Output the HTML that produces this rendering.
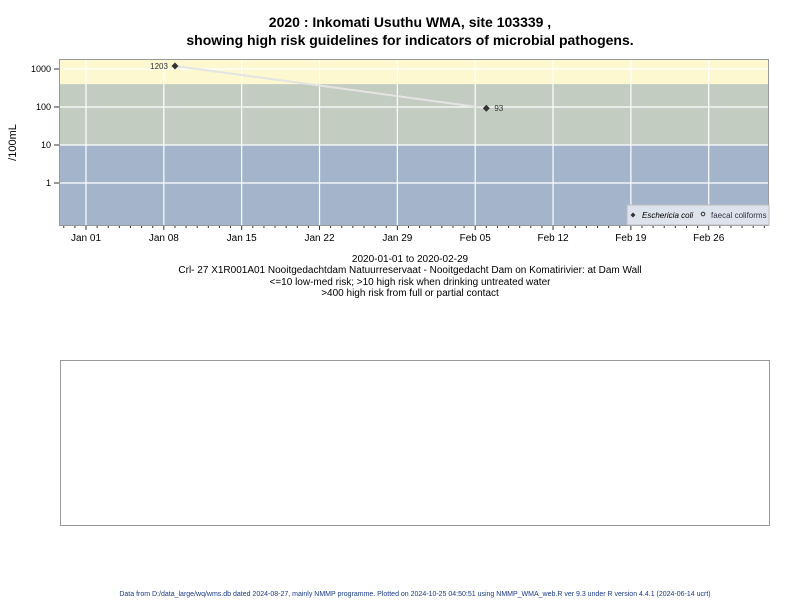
<!DOCTYPE html>
<html><head><meta charset="utf-8"><style>
body{margin:0;background:#fff;font-family:"Liberation Sans",sans-serif}
</style></head><body>
<svg width="800" height="600" xmlns="http://www.w3.org/2000/svg" font-family="Liberation Sans, sans-serif">
<text x="410" y="27" text-anchor="middle" font-size="14" font-weight="bold">2020 : Inkomati Usuthu WMA, site 103339 ,</text>
<text x="410" y="45" text-anchor="middle" font-size="14" font-weight="bold">showing high risk guidelines for indicators of microbial pathogens.</text>
<g id="plot"></g>
<text x="410" y="262" text-anchor="middle" font-size="10">2020-01-01 to 2020-02-29</text>
<text x="410" y="273" text-anchor="middle" font-size="10">Crl- 27 X1R001A01 Nooitgedachtdam Natuurreservaat - Nooitgedacht Dam on Komatirivier: at Dam Wall</text>
<text x="410" y="285" text-anchor="middle" font-size="10">&lt;=10 low-med risk; &gt;10 high risk when drinking untreated water</text>
<text x="410" y="296" text-anchor="middle" font-size="10">&gt;400 high risk from full or partial contact</text>
<rect x="60.5" y="360.5" width="709" height="165" fill="none" stroke="#999"/>
<text x="415" y="596" text-anchor="middle" font-size="7" fill="#1a3a8a">Data from D:/data_large/wq/wms.db dated 2024-08-27, mainly NMMP programme. Plotted on 2024-10-25 04:50:51 using NMMP_WMA_web.R ver 9.3 under R version 4.4.1 (2024-06-14 ucrt)</text>
</svg>
<script>
const dates=["2020-01-09","2020-02-06"];
const values=[1203,93];
const xTickLabels=["Jan 01","Jan 08","Jan 15","Jan 22","Jan 29","Feb 05","Feb 12","Feb 19","Feb 26"];
const yTicks=[1,10,100,1000];
const NS="http://www.w3.org/2000/svg";
const L=59,R=769,T=59,B=226;
const day0=Date.UTC(2020,0,1);
function dayOf(s){return (Date.parse(s+"T00:00:00Z")-day0)/86400000;}
function X(d){return 86+d*11.12;}
function Y(v){return 183-Math.log10(v)*38;}
const g=document.getElementById('plot');
function mk(tag,a,txt){const e=document.createElementNS(NS,tag);for(const k in a)e.setAttribute(k,a[k]);if(txt!=null)e.textContent=txt;g.appendChild(e);return e;}
let e;
e=mk('rect',{x:L,y:T,width:R-L,height:Y(400)-T,fill:'#fdf8cf'});


e=mk('rect',{x:L,y:Y(400),width:R-L,height:Y(10)-Y(400),fill:'#c3ccc0'});


e=mk('rect',{x:L,y:Y(10),width:R-L,height:B-Y(10),fill:'#a3b4cb'});


yTicks.forEach(v=>{
 e=mk('line',{x1:L,x2:R,y1:Y(v),y2:Y(v),stroke:'#fff','stroke-width':1.2});
 
 
 e=mk('line',{x1:L-5,x2:L,y1:Y(v),y2:Y(v),stroke:'#333'});
 
 
 e=mk('text',{x:L-8,y:Y(v)+3,'text-anchor':'end','font-size':9},String(v));
 
 
});
xTickLabels.forEach((t,i)=>{
 const x=X(i*7);
 e=mk('line',{x1:x,x2:x,y1:T,y2:B,stroke:'#fff','stroke-width':1.2});
 
 
 e=mk('line',{x1:x,x2:x,y1:B,y2:B+4,stroke:'#333'});
 
 
 e=mk('text',{x:x,y:B+15,'text-anchor':'middle','font-size':10},t);
 
 
});
for(let d=-2;d<=61;d++){if(d%7===0)continue;const x=X(d);if(x<L||x>R)continue;
 e=mk('line',{x1:x,x2:x,y1:B,y2:B+2,stroke:'#333'});
 
 }
e=mk('rect',{x:L+0.5,y:T+0.5,width:R-L-1,height:B-T-1,fill:'none',stroke:'#999'});


e=mk('text',{x:0,y:0,transform:`translate(16,${(T+B)/2}) rotate(-90)`,'text-anchor':'middle','font-size':11},'/100mL');


const pts=dates.map((d,i)=>[X(dayOf(d)),Y(values[i])]);
e=mk('polyline',{points:pts.map(p=>p.join(',')).join(' '),fill:'none',stroke:'#e4e4e4','stroke-width':2});


pts.forEach((p,i)=>{
 e=mk('path',{d:`M${p[0]},${p[1]-3.5}L${p[0]+3.5},${p[1]}L${p[0]},${p[1]+3.5}L${p[0]-3.5},${p[1]}Z`,fill:'#333'});
 
 
 const left=i===0;
 e=mk('text',{x:left?p[0]-7:p[0]+8,y:p[1]+3,'text-anchor':left?'end':'start','font-size':8,fill:'#333'},String(values[i]));
 
 
});
e=mk('rect',{x:627,y:205,width:142,height:20,fill:'#dde3ec',stroke:'#bbb'});


e=mk('path',{d:'M633,212.5L635.5,215L633,217.5L630.5,215Z',fill:'#333'});


e=mk('text',{x:642,y:218,'font-size':8,'font-style':'italic'},'Eschericia coli');


e=mk('circle',{cx:703,cy:214,r:1.8,fill:'none',stroke:'#333'});


e=mk('text',{x:711,y:218,'font-size':8,fill:'#334'},'faecal coliforms');


</script>
</body></html>
